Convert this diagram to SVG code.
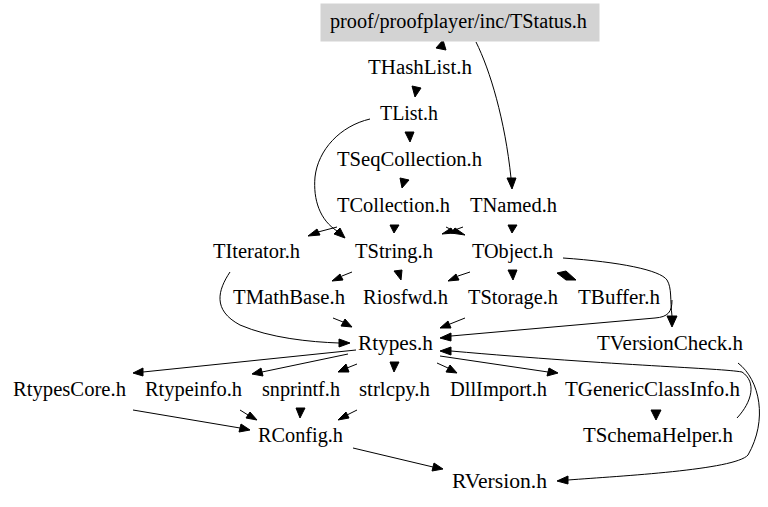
<svg xmlns="http://www.w3.org/2000/svg" width="768" height="507" viewBox="0 0 768 507">
<style>
text{font-family:"Liberation Serif","Times New Roman",serif;font-size:20.5px;fill:#000}
.e{fill:none;stroke:#000;stroke-width:1}
.h{fill:#000;stroke:#000;stroke-width:1}
</style>
<rect width="768" height="507" fill="#fff"/>
<g id="edges">
<polygon class="h" points="443,40 436,48 446,50"/>
<polygon class="h" points="412,86 421,88 415,97"/>
<polygon class="h" points="405,132 414,132 410,142"/>
<polygon class="h" points="400,178 409,180 402,188"/>
<path class="e" d="M337,227 L318,232"/>
<polygon class="h" points="308,236 317,229 320,235"/>
<path class="e" d="M370,119 C340,126 318,150 315,177 C313,200 320,220 337,231"/>
<polygon class="h" points="345,238 334,234 340,228"/>
<polygon class="h" points="390,225 399,225 394,233"/>
<path class="e" d="M446,227 L454,231 M463,227 L452,231"/>
<polygon class="h" points="442,234 451,228 454,233"/>
<polygon class="h" points="465,235 451,233 455,228"/>
<polygon class="h" points="508,225 517,225 512,233"/>
<path class="e" d="M476,42 C490,70 505,120 511,178"/>
<polygon class="h" points="507,178 516,178 512,189"/>
<path class="e" d="M352,272 L342,276"/>
<polygon class="h" points="332,281 340,274 343,280"/>
<polygon class="h" points="394,271 402,270 401,280"/>
<path class="e" d="M470,272 L458,276"/>
<polygon class="h" points="448,281 456,274 459,280"/>
<polygon class="h" points="508,270 517,270 513,280"/>
<polygon class="h" points="557,273 566,271 576,280 566,280"/>
<path class="e" d="M563,258 C620,262 660,270 667,280 C672,288 670,300 672,316"/>
<polygon class="h" points="667,316 677,316 672,327"/>
<path class="e" d="M672,300 C672,312 668,317 655,318 L451,336"/>
<polygon class="h" points="440,338 451,333 451,341"/>
<path class="e" d="M333,318 L343,322"/>
<polygon class="h" points="352,327 341,326 345,319"/>
<path class="e" d="M465,318 L450,324"/>
<polygon class="h" points="440,328 451,328 448,321"/>
<path class="e" d="M230,272 C218,290 212,310 240,325 C270,338 310,342 339,343"/>
<polygon class="h" points="350,343 339,339 339,347"/>
<path class="e" d="M356,350 L143,372"/>
<polygon class="h" points="133,373 143,376 143,368"/>
<path class="e" d="M348,354 L262,372"/>
<polygon class="h" points="252,374 263,376 261,368"/>
<path class="e" d="M357,364 L347,368"/>
<polygon class="h" points="338,372 349,372 346,364"/>
<polygon class="h" points="390,362 399,362 394,372"/>
<path class="e" d="M437,363 L448,368"/>
<polygon class="h" points="457,373 446,372 450,365"/>
<path class="e" d="M440,356 L548,372"/>
<polygon class="h" points="558,373 547,376 549,368"/>
<polygon class="h" points="651,410 661,410 656,420"/>
<path class="e" d="M737,418 C752,402 757,382 742,372 C720,368 620,366 451,351"/>
<polygon class="h" points="440,351 451,347 451,355"/>
<path class="e" d="M738,363 C760,380 768,420 748,455 C735,470 620,476 568,480"/>
<polygon class="h" points="557,481 568,476 568,484"/>
<path class="e" d="M133,410 L240,428"/>
<polygon class="h" points="250,430 239,432 241,424"/>
<path class="e" d="M240,410 L248,415"/>
<polygon class="h" points="257,420 246,418 250,412"/>
<polygon class="h" points="296,408 305,408 300,418"/>
<path class="e" d="M357,410 L347,415"/>
<polygon class="h" points="338,420 346,412 349,418"/>
<path class="e" d="M353,448 L433,467"/>
<polygon class="h" points="443,469 432,471 434,463"/>
</g>
<g id="TStatus"><rect x="321" y="4" width="278" height="37" fill="#d3d3d3" stroke="#d3d3d3"/><text x="330" y="28" textLength="257" lengthAdjust="spacingAndGlyphs">proof/proofplayer/inc/TStatus.h</text></g>
<g id="THashList"><text x="368" y="74" textLength="104" lengthAdjust="spacingAndGlyphs">THashList.h</text></g>
<g id="TList"><text x="380" y="120" textLength="58" lengthAdjust="spacingAndGlyphs">TList.h</text></g>
<g id="TSeqCollection"><text x="337" y="166" textLength="145" lengthAdjust="spacingAndGlyphs">TSeqCollection.h</text></g>
<g id="TCollection"><text x="337" y="212" textLength="113" lengthAdjust="spacingAndGlyphs">TCollection.h</text></g>
<g id="TNamed"><text x="470" y="212" textLength="87" lengthAdjust="spacingAndGlyphs">TNamed.h</text></g>
<g id="TIterator"><text x="213" y="258" textLength="87" lengthAdjust="spacingAndGlyphs">TIterator.h</text></g>
<g id="TString"><text x="355" y="258" textLength="78" lengthAdjust="spacingAndGlyphs">TString.h</text></g>
<g id="TObject"><text x="472" y="258" textLength="81" lengthAdjust="spacingAndGlyphs">TObject.h</text></g>
<g id="TMathBase"><text x="233" y="304" textLength="112" lengthAdjust="spacingAndGlyphs">TMathBase.h</text></g>
<g id="Riosfwd"><text x="363" y="304" textLength="85" lengthAdjust="spacingAndGlyphs">Riosfwd.h</text></g>
<g id="TStorage"><text x="468" y="304" textLength="90" lengthAdjust="spacingAndGlyphs">TStorage.h</text></g>
<g id="TBuffer"><text x="578" y="304" textLength="82" lengthAdjust="spacingAndGlyphs">TBuffer.h</text></g>
<g id="Rtypes"><text x="358" y="350" textLength="75" lengthAdjust="spacingAndGlyphs">Rtypes.h</text></g>
<g id="TVersionCheck"><text x="597" y="350" textLength="146" lengthAdjust="spacingAndGlyphs">TVersionCheck.h</text></g>
<g id="RtypesCore"><text x="13" y="396" textLength="113" lengthAdjust="spacingAndGlyphs">RtypesCore.h</text></g>
<g id="Rtypeinfo"><text x="145" y="396" textLength="97" lengthAdjust="spacingAndGlyphs">Rtypeinfo.h</text></g>
<g id="snprintf"><text x="262" y="396" textLength="78" lengthAdjust="spacingAndGlyphs">snprintf.h</text></g>
<g id="strlcpy"><text x="359" y="396" textLength="71" lengthAdjust="spacingAndGlyphs">strlcpy.h</text></g>
<g id="DllImport"><text x="450" y="396" textLength="97" lengthAdjust="spacingAndGlyphs">DllImport.h</text></g>
<g id="TGenericClassInfo"><text x="565" y="396" textLength="175" lengthAdjust="spacingAndGlyphs">TGenericClassInfo.h</text></g>
<g id="TSchemaHelper"><text x="583" y="442" textLength="150" lengthAdjust="spacingAndGlyphs">TSchemaHelper.h</text></g>
<g id="RConfig"><text x="258" y="442" textLength="85" lengthAdjust="spacingAndGlyphs">RConfig.h</text></g>
<g id="RVersion"><text x="452" y="488" textLength="95" lengthAdjust="spacingAndGlyphs">RVersion.h</text></g>
</svg>
